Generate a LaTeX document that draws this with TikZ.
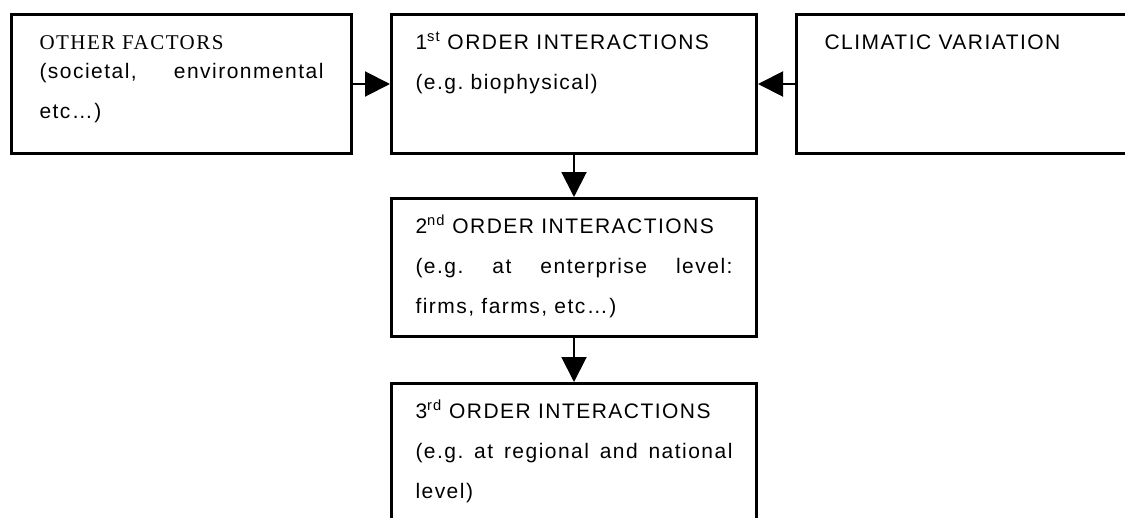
\documentclass[tikz,border=0pt]{standalone}
\usepackage{fontspec}
\usetikzlibrary{arrows.meta}
\newfontfamily\stagefont{Liberation Sans}[LetterSpace=7]
\newfontfamily\factorfont{Liberation Serif}[LetterSpace=7]
\hyphenpenalty=10000
\frenchspacing

\tikzset{
  stage/.style={draw, line width=3pt, anchor=north west, inner xsep=28pt, inner ysep=18pt,
    text height=17pt, align=justify, font={\stagefont\fontsize{21pt}{40pt}\selectfont}},
  feed/.style={line width=2pt, -{Triangle[length=25pt,width=25pt]}}
}

\begin{document}
\begin{tikzpicture}[x=1pt, y=-1pt]
        \useasboundingbox (0,0) rectangle (1125,517);
        \clip (0,0) rectangle (1125,517);

        % top row
        \node[stage, text width=284pt, text depth=86pt] (other) at (10,13)
            {{\factorfont OTHER FACTORS}\par\vspace{-11pt}\baselineskip=34pt
             (societal, environmental\linebreak etc\ldots)};
        \node[stage, inner xsep=24pt, text width=317pt, text depth=86pt] (first) at (390,13)
            {1\textsuperscript{st} ORDER INTERACTIONS\par (e.g. biophysical)};
        \node[stage, text width=284pt, text depth=86pt] (climate) at (795,13)
            {CLIMATIC VARIATION};

        % lower stages
        \node[stage, inner xsep=24pt, text width=317pt, text depth=85pt] (second) at (390,197)
            {2\textsuperscript{nd} ORDER INTERACTIONS\par
             (e.g. at enterprise level:\linebreak firms, farms, etc\ldots)};
        \node[stage, inner xsep=24pt, text width=317pt, text depth=110pt] (third) at (390,382)
            {3\textsuperscript{rd} ORDER INTERACTIONS\par
             (e.g. at regional and national\linebreak level)};

        \draw[feed] (other) -- (first);
        \draw[feed] (climate) -- (first);
        \draw[feed] (first) -- (second);
        \draw[feed] (second) -- (third);
\end{tikzpicture}
\end{document}
